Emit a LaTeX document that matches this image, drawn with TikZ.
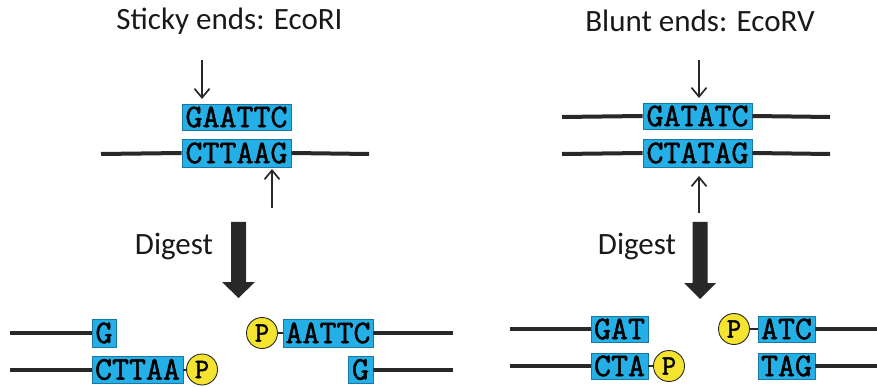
\documentclass[tikz,border=0pt]{standalone}
\usepackage{fontspec}
\setmainfont{Carlito}
\newfontfamily\seqfont[FakeBold=1.5]{Latin Modern Mono}
\usetikzlibrary{arrows.meta}
\definecolor{boxcyan}{RGB}{36,176,230}
\definecolor{boxedge}{RGB}{25,120,165}
\definecolor{pyellow}{RGB}{244,228,48}
\definecolor{strandgray}{RGB}{40,40,40}
\tikzset{
  seqbox/.style={fill=boxcyan, draw=boxedge, line width=0.6pt, inner sep=0pt, font=\seqfont\fontsize{33}{33}\selectfont, text=black},
  pcirc/.style={circle, fill=pyellow, draw=strandgray, line width=0.9pt, minimum size=31pt, inner sep=0pt, font=\seqfont\fontsize{28}{28}\selectfont},
  strand/.style={line width=4pt, draw=strandgray},
  link/.style={line width=2pt, draw=strandgray},
  cutarrow/.style={line width=1.7pt, draw=strandgray, -{Straight Barb[length=9pt,width=15pt,line width=1.7pt]}},
  title/.style={font=\fontsize{31}{33}\selectfont, text=black!90},
  bigarrow/.style={fill=strandgray}
}
\begin{document}
\begin{tikzpicture}[x=1pt,y=-1pt]
\useasboundingbox (0,0) rectangle (877,387);
\fill[white] (0,0) rectangle (877,387);

% ---------- Left: sticky ends ----------
\node[title] (tl) at (229.5,21) {Sticky ends: EcoRI};
\node[seqbox, minimum width=109pt, minimum height=26pt] (b1) at (236.5,117) {GAATTC};
\node[seqbox, minimum width=109pt, minimum height=28pt] (b2) at (236.5,153) {CTTAAG};
\coordinate (l2a) at (101,154);
\coordinate (l2b) at (369,154);
\draw[strand] (l2a) -- (b2.west);
\draw[strand] (b2.east) -- (l2b);
\coordinate (d1s) at (202,60);
\coordinate (d1e) at (202,99);
\draw[cutarrow] (d1s) -- (d1e);
\coordinate (u1s) at (272,208);
\coordinate (u1e) at (272,169);
\draw[cutarrow] (u1s) -- (u1e);

\node[title] (dg1) at (174,247) {Digest};
\fill[bigarrow] (231,222) -- (246,222) -- (246,282) -- (255,282) -- (238.5,298) -- (222,282) -- (231,282) -- cycle;

\node[seqbox, minimum width=24pt, minimum height=28pt] (g1) at (104,333) {G};
\coordinate (g1l) at (10,333);
\draw[strand] (g1l) -- (g1.west);
\node[seqbox, minimum width=91pt, minimum height=27pt] (c1) at (137.5,369.5) {CTTAA};
\coordinate (c1l) at (10,369.5);
\draw[strand] (c1l) -- (c1.west);
\node[pcirc] (p1) at (202,369.5) {P};
\draw[link] (c1.east) -- (p1);
\node[pcirc] (p2) at (262,333) {P};
\node[seqbox, minimum width=90pt, minimum height=28pt] (a1) at (328,333) {AATTC};
\draw[link] (p2) -- (a1.west);
\coordinate (a1r) at (453,333);
\draw[strand] (a1.east) -- (a1r);
\node[seqbox, minimum width=25pt, minimum height=27pt] (g2) at (360.5,369.5) {G};
\coordinate (g2r) at (453,369.5);
\draw[strand] (g2.east) -- (g2r);

% ---------- Right: blunt ends ----------
\node[title] (tr) at (700,21) {Blunt ends: EcoRV};
\node[seqbox, minimum width=109pt, minimum height=26pt] (b3) at (697.5,116) {GATATC};
\node[seqbox, minimum width=109pt, minimum height=28pt] (b4) at (697.5,153) {CTATAG};
\coordinate (l3a) at (562,117);
\coordinate (l3b) at (830,117);
\coordinate (l4a) at (562,154);
\coordinate (l4b) at (830,154);
\draw[strand] (l3a) -- (b3.west);
\draw[strand] (b3.east) -- (l3b);
\draw[strand] (l4a) -- (b4.west);
\draw[strand] (b4.east) -- (l4b);
\coordinate (d2s) at (699,60);
\coordinate (d2e) at (699,98);
\draw[cutarrow] (d2s) -- (d2e);
\coordinate (u2s) at (699,213);
\coordinate (u2e) at (699,176);
\draw[cutarrow] (u2s) -- (u2e);

\node[title] (dg2) at (637,247) {Digest};
\fill[bigarrow] (692.5,222) -- (707.5,222) -- (707.5,283) -- (716,283) -- (700,299) -- (684,283) -- (692.5,283) -- cycle;

\node[seqbox, minimum width=57pt, minimum height=26pt] (gat) at (619.5,329) {GAT};
\coordinate (gatl) at (510,329);
\draw[strand] (gatl) -- (gat.west);
\node[seqbox, minimum width=57pt, minimum height=26pt] (cta) at (619.5,366) {CTA};
\coordinate (ctal) at (510,366);
\draw[strand] (ctal) -- (cta.west);
\node[pcirc] (p3) at (669,366) {P};
\draw[link] (cta.east) -- (p3);
\node[pcirc] (p4) at (734,329) {P};
\node[seqbox, minimum width=57pt, minimum height=26pt] (atc) at (786.5,329) {ATC};
\draw[link] (p4) -- (atc.west);
\coordinate (atcr) at (877,329);
\draw[strand] (atc.east) -- (atcr);
\node[seqbox, minimum width=57pt, minimum height=26pt] (tag) at (786.5,366) {TAG};
\coordinate (tagr) at (877,366);
\draw[strand] (tag.east) -- (tagr);
\end{tikzpicture}
\end{document}
